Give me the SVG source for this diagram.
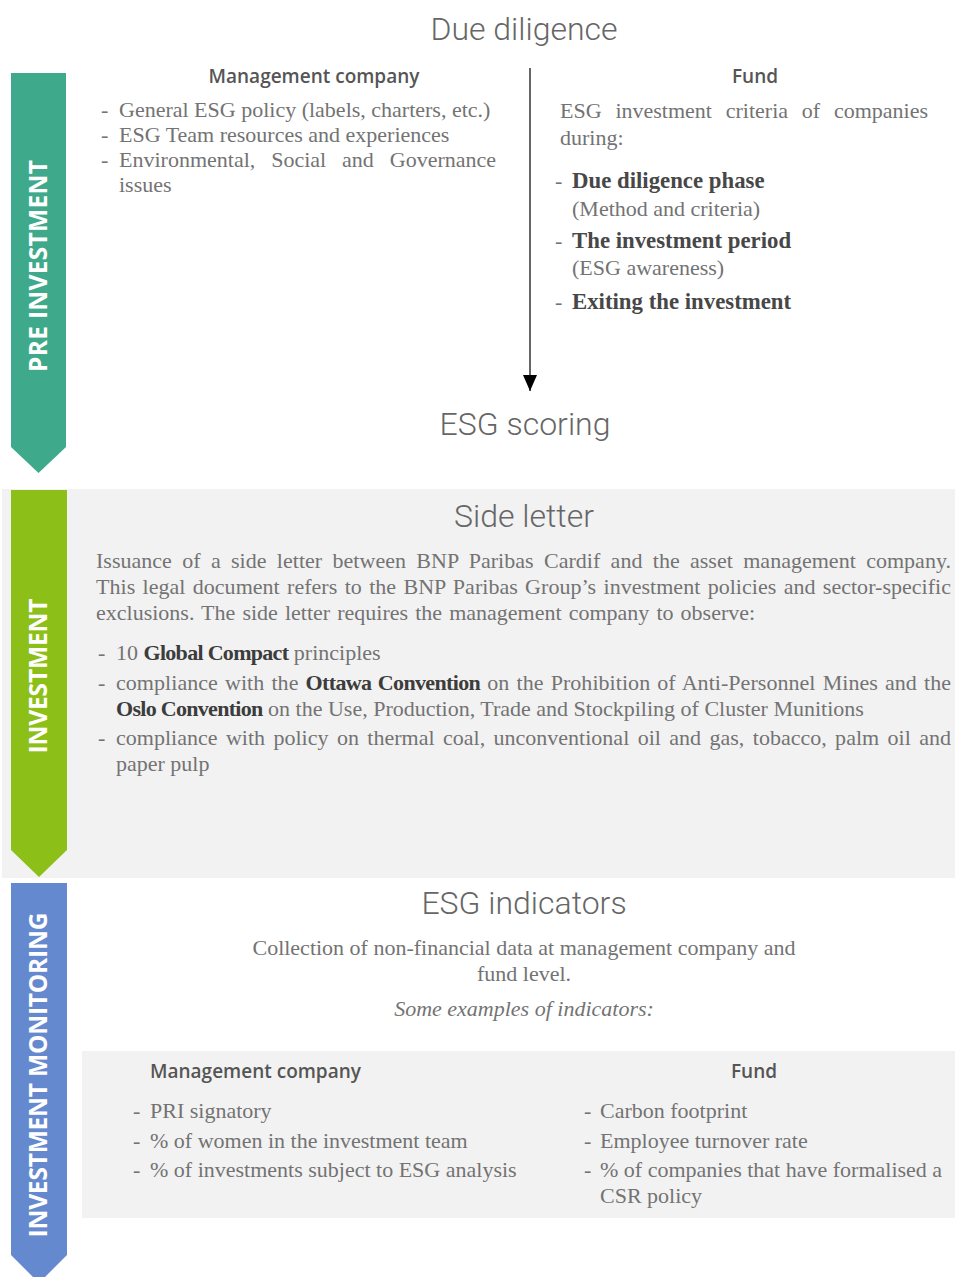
<svg xmlns="http://www.w3.org/2000/svg" width="955" height="1277" viewBox="0 0 955 1277">
<style>
.h{font-family:Roboto,"Open Sans",sans-serif;font-weight:300;font-size:32px;fill:#666;text-anchor:middle}
.sh{font-family:"Open Sans","Noto Sans",sans-serif;font-weight:600;font-size:19px;fill:#555}
.b{font-family:"Liberation Serif",serif;font-size:22px;fill:#737373}
.bb{font-family:"Liberation Serif",serif;font-size:22.8px;font-weight:bold;fill:#474747}
.k{font-weight:bold;fill:#3c3c3c;letter-spacing:-0.7px}
.it{font-style:italic}
.ban{font-family:"Open Sans","Noto Sans",sans-serif;font-weight:bold;font-size:24.5px;fill:#fff;text-anchor:middle}
</style>
<defs>
<marker id="ah" viewBox="0 0 16 14" refX="16" refY="7" markerWidth="16" markerHeight="14" markerUnits="userSpaceOnUse" orient="auto"><path d="M0,0 L16,7 L0,14 z" fill="#000"/></marker>
</defs>
<rect width="955" height="1277" fill="#fff"/>

<g id="panels">
<rect x="2" y="489" width="953" height="389" fill="#f2f2f2"/>
<rect x="82" y="1051" width="873" height="167" fill="#f2f2f2"/>
</g>

<g id="banner-pre">
<path d="M11,73 H66 V447 L38.5,473 L11,447 Z" fill="#3fa98b"/>
<text class="ban" transform="translate(47,266) rotate(-90)" textLength="212">PRE INVESTMENT</text>
</g>
<g id="banner-inv">
<path d="M11,490 H67 V850 L39,877 L11,850 Z" fill="#8cbf17"/>
<text class="ban" transform="translate(47,676) rotate(-90)" textLength="155">INVESTMENT</text>
</g>
<g id="banner-mon">
<path d="M11,883 H67 V1255 L39,1283 L11,1255 Z" fill="#6589cf"/>
<text class="ban" transform="translate(47,1075) rotate(-90)" textLength="325">INVESTMENT MONITORING</text>
</g>

<g id="connectors">
<line x1="530" y1="68" x2="530" y2="391" stroke="#333" stroke-width="1.5" marker-end="url(#ah)"/>
</g>

<g id="due-diligence">
<text class="h" x="524" y="40">Due diligence</text>
<text class="sh" x="314" y="83" text-anchor="middle">Management company</text>
<text class="b" x="101" y="117">-</text><text class="b" x="119" y="117">General ESG policy (labels, charters, etc.)</text>
<text class="b" x="101" y="142">-</text><text class="b" x="119" y="142">ESG Team resources and experiences</text>
<text class="b" x="101" y="167">-</text><text class="b" x="119" y="167" word-spacing="10.4" textLength="377">Environmental, Social and Governance</text>
<text class="b" x="119" y="192">issues</text>
</g>

<g id="fund-top">
<text class="sh" x="755" y="83" text-anchor="middle">Fund</text>
<text class="b" x="560" y="118" word-spacing="8.3" textLength="368">ESG investment criteria of companies</text>
<text class="b" x="560" y="145">during:</text>
<text class="b" x="555" y="188">-</text><text class="bb" x="572" y="188">Due diligence phase</text>
<text class="b" x="572" y="216">(Method and criteria)</text>
<text class="b" x="555" y="248">-</text><text class="bb" x="572" y="248">The investment period</text>
<text class="b" x="572" y="275">(ESG awareness)</text>
<text class="b" x="555" y="309">-</text><text class="bb" x="572" y="309">Exiting the investment</text>
</g>

<g id="esg-scoring">
<text class="h" x="525" y="435">ESG scoring</text>
</g>

<g id="side-letter">
<text class="h" x="524" y="527">Side letter</text>
<text class="b" x="96" y="568" word-spacing="4.8" textLength="855">Issuance of a side letter between BNP Paribas Cardif and the asset management company.</text>
<text class="b" x="96" y="594" word-spacing="1.8" textLength="855">This legal document refers to the BNP Paribas Group’s investment policies and sector-specific</text>
<text class="b" x="96" y="620" word-spacing="1.6">exclusions. The side letter requires the management company to observe:</text>
<text class="b" x="98" y="660">-</text><text class="b" x="116" y="660">10 <tspan class="k">Global Compact</tspan> principles</text>
<text class="b" x="98" y="690">-</text><text class="b" x="116" y="690" word-spacing="1.6" textLength="835">compliance with the <tspan class="k">Ottawa Convention</tspan> on the Prohibition of Anti-Personnel Mines and the</text>
<text class="b" x="116" y="716"><tspan class="k">Oslo Convention</tspan> on the Use, Production, Trade and Stockpiling of Cluster Munitions</text>
<text class="b" x="98" y="745">-</text><text class="b" x="116" y="745" word-spacing="2.9" textLength="835">compliance with policy on thermal coal, unconventional oil and gas, tobacco, palm oil and</text>
<text class="b" x="116" y="771">paper pulp</text>
</g>

<g id="esg-indicators">
<text class="h" x="524" y="914">ESG indicators</text>
<text class="b" x="524" y="955" text-anchor="middle">Collection of non-financial data at management company and</text>
<text class="b" x="524" y="981" text-anchor="middle">fund level.</text>
<text class="b it" x="524" y="1016" text-anchor="middle">Some examples of indicators:</text>
</g>

<g id="mgmt-indicators">
<text class="sh" x="150" y="1078">Management company</text>
<text class="b" x="133" y="1118">-</text><text class="b" x="150" y="1118">PRI signatory</text>
<text class="b" x="133" y="1148">-</text><text class="b" x="150" y="1148">% of women in the investment team</text>
<text class="b" x="133" y="1177">-</text><text class="b" x="150" y="1177">% of investments subject to ESG analysis</text>
</g>

<g id="fund-indicators">
<text class="sh" x="754" y="1078" text-anchor="middle">Fund</text>
<text class="b" x="584" y="1118">-</text><text class="b" x="600" y="1118">Carbon footprint</text>
<text class="b" x="584" y="1148">-</text><text class="b" x="600" y="1148">Employee turnover rate</text>
<text class="b" x="584" y="1177">-</text><text class="b" x="600" y="1177">% of companies that have formalised a</text>
<text class="b" x="600" y="1203">CSR policy</text>
</g>
</svg>
